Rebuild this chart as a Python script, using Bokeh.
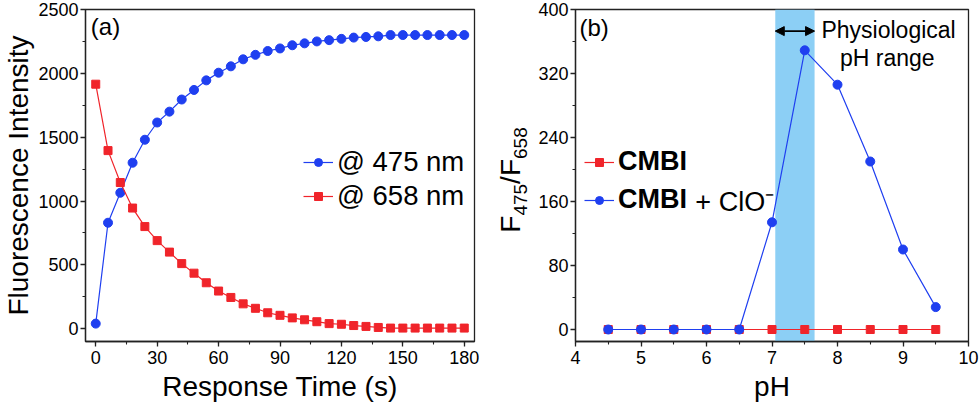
from bokeh.plotting import figure
from bokeh.models import (Range1d, Legend, LegendItem, Label, Arrow, NormalHead,
                          BoxAnnotation, SingleIntervalTicker, Div)
from bokeh.layouts import row
from bokeh.embed import file_html
from bokeh.resources import INLINE

# ---------------- data ----------------
time_s = [0, 6, 12, 18, 24, 30, 36, 42, 48, 54, 60, 66, 72, 78, 84, 90, 96, 102,
          108, 114, 120, 126, 132, 138, 144, 150, 156, 162, 168, 174, 180]
int_475 = [40, 830, 1065, 1300, 1480, 1615, 1700, 1795, 1870, 1945, 2005, 2055,
           2110, 2145, 2175, 2195, 2220, 2235, 2250, 2260, 2270, 2280, 2285, 2290,
           2300, 2300, 2300, 2300, 2300, 2300, 2300]
int_658 = [1915, 1395, 1145, 945, 800, 690, 600, 510, 435, 360, 295, 245, 195,
           160, 125, 105, 85, 70, 55, 40, 35, 25, 18, 10, 5, 5, 5, 5, 5, 5, 5]

ph = [4.5, 5.0, 5.5, 6.0, 6.5, 7.0, 7.5, 8.0, 8.5, 9.0, 9.5]
ratio_cmbi = [0, 0, 0, 0, 0, 0, 0, 0, 0, 0, 0]
ratio_cmbi_clo = [0, 0, 0, 0, 0, 134, 349, 306, 210, 100, 28]

phys_ph_range = [7.05, 7.65]

BLUE = "#1f3ff0"
RED = "#f0242a"
BAND = "#8ccff5"
FONT = "Liberation Sans"
H = 404


def style(p, xint, yint):
    p.grid.visible = False
    p.outline_line_color = "#222222"
    p.outline_line_width = 1.3
    p.xaxis.ticker = SingleIntervalTicker(interval=xint, num_minor_ticks=2)
    p.yaxis.ticker = SingleIntervalTicker(interval=yint, num_minor_ticks=2)
    for ax in (p.xaxis, p.yaxis):
        ax.axis_line_width = 1.3
        ax.axis_line_color = "#222222"
        ax.major_tick_line_width = 1.3
        ax.minor_tick_line_width = 1.1
        ax.major_tick_line_color = "#222222"
        ax.minor_tick_line_color = "#222222"
        ax.major_tick_out = 5
        ax.major_tick_in = 0
        ax.minor_tick_out = 3
        ax.minor_tick_in = 0
        ax.major_label_text_font = FONT
        ax.major_label_text_font_size = "18px"
        ax.major_label_text_color = "black"
        ax.axis_label_text_font = FONT
        ax.axis_label_text_font_size = "28px"
        ax.axis_label_text_font_style = "normal"
        ax.axis_label_text_color = "black"
    p.xaxis.major_label_standoff = 4
    p.yaxis.major_label_standoff = 2
    p.xaxis.axis_label_standoff = 4
    p.yaxis.axis_label_standoff = 1


# ---------------- panel (a) ----------------
p1 = figure(width=490, height=H, x_range=Range1d(-5, 185), y_range=Range1d(-100, 2500),
            output_backend="svg", toolbar_location=None,
            min_border_left=82, min_border_right=16, min_border_top=9, min_border_bottom=63)
style(p1, 30, 500)
p1.xaxis.axis_label = "Response Time (s)"
p1.yaxis.axis_label = "Fluorescence Intensity"

l1 = p1.line(time_s, int_475, line_color=BLUE, line_width=1.2)
s1 = p1.scatter(time_s, int_475, marker="circle", size=9, fill_color=BLUE, line_color=BLUE)
l2 = p1.line(time_s, int_658, line_color=RED, line_width=1.2)
s2 = p1.scatter(time_s, int_658, marker="square", size=8, fill_color=RED, line_color=RED)

leg1 = Legend(items=[LegendItem(label="@ 475 nm", renderers=[l1, s1]),
                     LegendItem(label="@ 658 nm", renderers=[l2, s2])],
              location=(218, 129), padding=0, margin=0, spacing=2,
              glyph_width=30, glyph_height=20, label_standoff=4,
              label_text_font=FONT, label_text_font_size="27.5px",
              label_text_color="black",
              border_line_color=None, background_fill_alpha=0)
p1.add_layout(leg1)
p1.add_layout(Label(x=-2.4, y=2366, text="(a)", text_font=FONT, text_font_size="24px",
                    text_baseline="middle", text_align="left", text_color="black"))

# ---------------- y title of panel (b): F475/F658 with subscripts ----------------
sub_css = "font-size:19px; vertical-align:-7px; line-height:0;"
ylab_html = (
    '<div style="position:relative; width:40px; height:%dpx;">'
    '<div style="position:absolute; left:21px; top:180px; '
    'transform: translate(-50%%,-50%%) rotate(-90deg); white-space:nowrap; '
    "font-family:'Liberation Sans'; font-size:28px; line-height:1; color:black;\">"
    'F<span style="%s">475</span>/F<span style="%s">658</span></div></div>'
    % (H, sub_css, sub_css)
)
ylab_b = Div(text=ylab_html, width=40, height=H, margin=0)

# ---------------- panel (b) ----------------
p2 = figure(width=450, height=H, x_range=Range1d(4, 10), y_range=Range1d(-15, 400),
            output_backend="svg", toolbar_location=None,
            min_border_left=45, min_border_right=12, min_border_top=9, min_border_bottom=63)
style(p2, 1, 80)
p2.xaxis.axis_label = "pH"

p2.add_layout(BoxAnnotation(left=phys_ph_range[0], right=phys_ph_range[1],
                            fill_color=BAND, fill_alpha=1.0, line_color=None,
                            level="underlay"))

r1 = p2.line(ph, ratio_cmbi, line_color=RED, line_width=1.2)
r2 = p2.scatter(ph, ratio_cmbi, marker="square", size=8, fill_color=RED, line_color=RED)
b1 = p2.line(ph, ratio_cmbi_clo, line_color=BLUE, line_width=1.2)
b2 = p2.scatter(ph, ratio_cmbi_clo, marker="circle", size=9, fill_color=BLUE, line_color=BLUE)

leg2 = Legend(items=[LegendItem(label="CMBI", renderers=[r1, r2]),
                     LegendItem(label="CMBI", renderers=[b1, b2])],
              location=(9, 126), padding=0, margin=0, spacing=7,
              glyph_width=30, glyph_height=20, label_standoff=4,
              label_text_font=FONT, label_text_font_size="27px",
              label_text_font_style="bold", label_text_color="black",
              border_line_color=None, background_fill_alpha=0)
p2.add_layout(leg2)
p2.add_layout(Label(x=5.83, y=160, text="+ ClO\u207b", text_font=FONT, text_font_size="27px",
                    text_baseline="middle", text_align="left", text_color="black"))

p2.add_layout(Arrow(x_start=phys_ph_range[0], y_start=373,
                    x_end=phys_ph_range[1], y_end=373, line_width=1.6, line_color="black",
                    start=NormalHead(size=9, fill_color="black", line_color="black"),
                    end=NormalHead(size=9, fill_color="black", line_color="black")))
p2.add_layout(Label(x=8.78, y=375, text="Physiological", text_font=FONT, text_font_size="23px",
                    text_baseline="middle", text_align="center", text_color="black"))
p2.add_layout(Label(x=8.76, y=340, text="pH range", text_font=FONT, text_font_size="23px",
                    text_baseline="middle", text_align="center", text_color="black"))
p2.add_layout(Label(x=4.06, y=377, text="(b)", text_font=FONT, text_font_size="24px",
                    text_baseline="middle", text_align="left", text_color="black"))

layout = row(p1, ylab_b, p2)
open("out.html", "w").write(file_html(layout, INLINE))
